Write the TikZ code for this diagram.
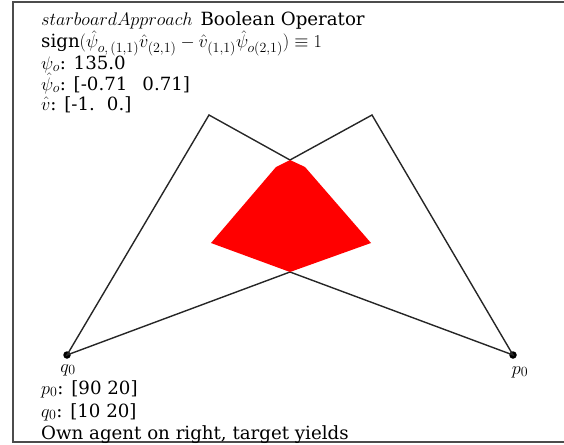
\documentclass[tikz,border=0pt]{standalone}
\usepackage{fix-cm}
\usepackage{fontspec}
\setmainfont{DejaVu Serif}
\DeclareMathSizes{18.2}{18.2}{14}{10}
\usetikzlibrary{positioning}

\begin{document}
\begin{tikzpicture}[x=1pt, y=-1pt,
  txt/.style={anchor=base west, inner sep=0pt, font=\fontsize{18.2}{22}\selectfont},
  dot/.style={circle, fill=black, inner sep=0pt, minimum size=7.5pt},
  ptlabel/.style={inner sep=0pt, font=\fontsize{18.2}{22}\selectfont},
  wedge/.style={draw=black!85, line width=1.4pt, line join=miter},
  region/.style={fill=red, draw=none}
]
\clip (0,0) rectangle (564,444);

% frame
\draw [black!70, line width=1.5pt] (13,2) rectangle (572,442);

% corner points
\node (q0) [dot] at (67,355) {};
\node (p0) [dot] at (513,355) {};
\coordinate (apexL) at (209,115);
\coordinate (apexR) at (372,115);
\coordinate (top) at (290,160);
\coordinate (low) at (290,272);

% cones
\draw [wedge] (q0.center) -- (apexL) -- (top) -- (apexR) -- (p0.center) -- (low) -- cycle;

% overlap
\fill [region] (top) -- (305,167) -- (371,243) -- (low) -- (211,243) -- (276,167) -- cycle;

% point labels
\node (q0lbl) [ptlabel] at (68,370) {$q_0$};
\node (p0lbl) [ptlabel] at (520,372) {$p_0$};

% header
\node (title) [txt] at (41,26) {$starboardApproach$\hspace{2pt} Boolean Operator};
\node (rule) [txt] at (41,48) {sign$(\hat{\psi}_{o,\,(1,1)}\hat{v}_{(2,1)} - \hat{v}_{(1,1)}\hat{\psi}_{o(2,1)})\equiv 1$};
\node (psi) [txt] at (41,69) {$\psi_o$: 135.0};
\node (psihat) [txt] at (41,90) {$\hat{\psi}_o$: [-0.71\hspace{15pt}0.71]};
\node (vhat) [txt] at (41,110) {$\hat{v}$: [-1.\hspace{12pt}0.]};

% footer
\node (p0txt) [txt] at (41,394) {$p_0$: [90 20]};
\node (q0txt) [txt] at (41,417) {$q_0$: [10 20]};
\node (note) [txt] at (41,439) {Own agent on right, target yields};
\end{tikzpicture}
\end{document}
